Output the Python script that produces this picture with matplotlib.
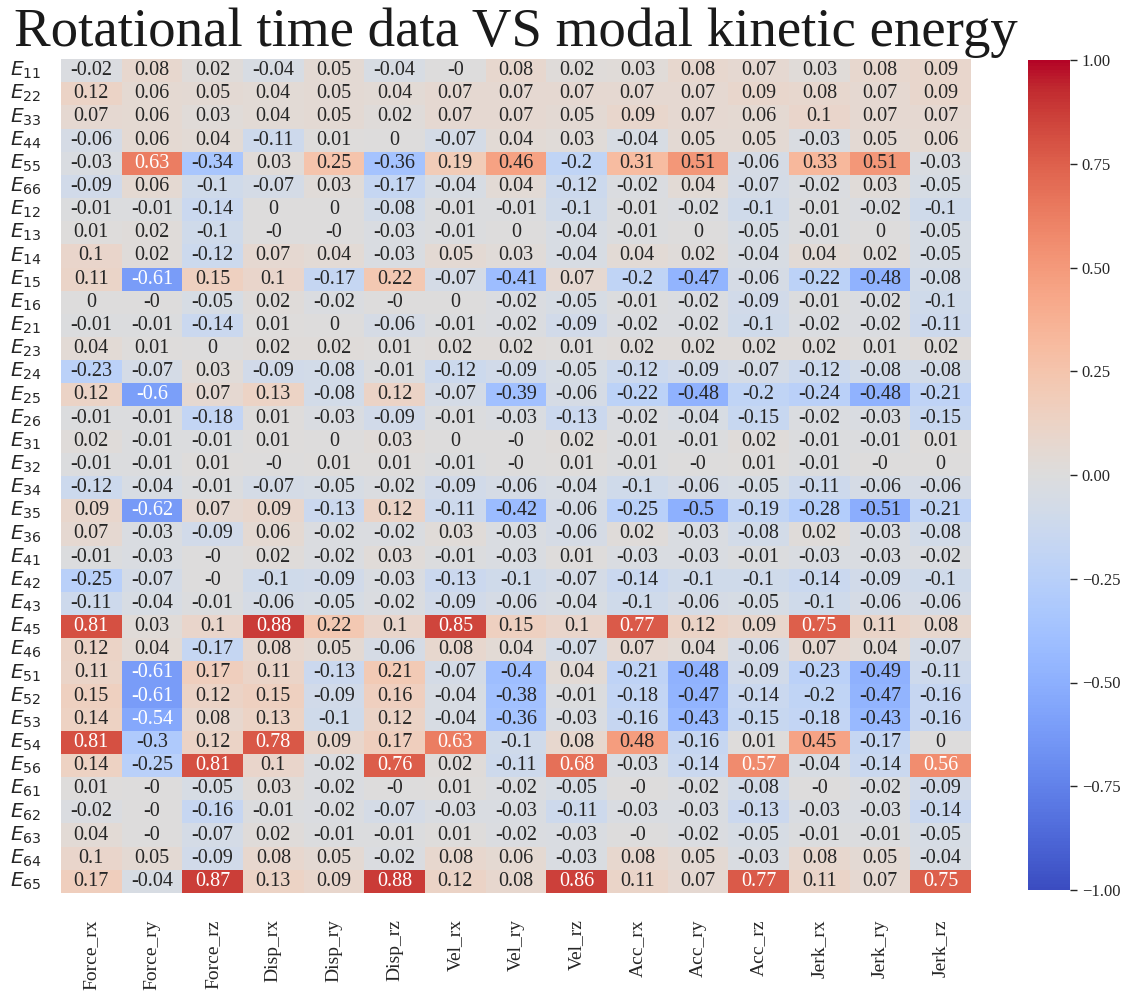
import numpy as np
import pandas as pd
import matplotlib
matplotlib.use("Agg")
import matplotlib.pyplot as plt
import seaborn as sns

columns = ["Force_rx", "Force_ry", "Force_rz", "Disp_rx", "Disp_ry", "Disp_rz",
           "Vel_rx", "Vel_ry", "Vel_rz", "Acc_rx", "Acc_ry", "Acc_rz",
           "Jerk_rx", "Jerk_ry", "Jerk_rz"]

row_ids = ["11", "22", "33", "44", "55", "66", "12", "13", "14", "15", "16",
           "21", "23", "24", "25", "26", "31", "32", "34", "35", "36",
           "41", "42", "43", "45", "46", "51", "52", "53", "54", "56",
           "61", "62", "63", "64", "65"]

E11 = [-0.02, 0.08, 0.02, -0.04, 0.05, -0.04, -0.0, 0.08, 0.02, 0.03, 0.08, 0.07, 0.03, 0.08, 0.09]
E22 = [0.12, 0.06, 0.05, 0.04, 0.05, 0.04, 0.07, 0.07, 0.07, 0.07, 0.07, 0.09, 0.08, 0.07, 0.09]
E33 = [0.07, 0.06, 0.03, 0.04, 0.05, 0.02, 0.07, 0.07, 0.05, 0.09, 0.07, 0.06, 0.1, 0.07, 0.07]
E44 = [-0.06, 0.06, 0.04, -0.11, 0.01, 0.0, -0.07, 0.04, 0.03, -0.04, 0.05, 0.05, -0.03, 0.05, 0.06]
E55 = [-0.03, 0.63, -0.34, 0.03, 0.25, -0.36, 0.19, 0.46, -0.2, 0.31, 0.51, -0.06, 0.33, 0.51, -0.03]
E66 = [-0.09, 0.06, -0.1, -0.07, 0.03, -0.17, -0.04, 0.04, -0.12, -0.02, 0.04, -0.07, -0.02, 0.03, -0.05]
E12 = [-0.01, -0.01, -0.14, 0.0, 0.0, -0.08, -0.01, -0.01, -0.1, -0.01, -0.02, -0.1, -0.01, -0.02, -0.1]
E13 = [0.01, 0.02, -0.1, -0.0, -0.0, -0.03, -0.01, 0.0, -0.04, -0.01, 0.0, -0.05, -0.01, 0.0, -0.05]
E14 = [0.1, 0.02, -0.12, 0.07, 0.04, -0.03, 0.05, 0.03, -0.04, 0.04, 0.02, -0.04, 0.04, 0.02, -0.05]
E15 = [0.11, -0.61, 0.15, 0.1, -0.17, 0.22, -0.07, -0.41, 0.07, -0.2, -0.47, -0.06, -0.22, -0.48, -0.08]
E16 = [0.0, -0.0, -0.05, 0.02, -0.02, -0.0, 0.0, -0.02, -0.05, -0.01, -0.02, -0.09, -0.01, -0.02, -0.1]
E21 = [-0.01, -0.01, -0.14, 0.01, 0.0, -0.06, -0.01, -0.02, -0.09, -0.02, -0.02, -0.1, -0.02, -0.02, -0.11]
E23 = [0.04, 0.01, 0.0, 0.02, 0.02, 0.01, 0.02, 0.02, 0.01, 0.02, 0.02, 0.02, 0.02, 0.01, 0.02]
E24 = [-0.23, -0.07, 0.03, -0.09, -0.08, -0.01, -0.12, -0.09, -0.05, -0.12, -0.09, -0.07, -0.12, -0.08, -0.08]
E25 = [0.12, -0.6, 0.07, 0.13, -0.08, 0.12, -0.07, -0.39, -0.06, -0.22, -0.48, -0.2, -0.24, -0.48, -0.21]
E26 = [-0.01, -0.01, -0.18, 0.01, -0.03, -0.09, -0.01, -0.03, -0.13, -0.02, -0.04, -0.15, -0.02, -0.03, -0.15]
E31 = [0.02, -0.01, -0.01, 0.01, 0.0, 0.03, 0.0, -0.0, 0.02, -0.01, -0.01, 0.02, -0.01, -0.01, 0.01]
E32 = [-0.01, -0.01, 0.01, -0.0, 0.01, 0.01, -0.01, -0.0, 0.01, -0.01, -0.0, 0.01, -0.01, -0.0, 0.0]
E34 = [-0.12, -0.04, -0.01, -0.07, -0.05, -0.02, -0.09, -0.06, -0.04, -0.1, -0.06, -0.05, -0.11, -0.06, -0.06]
E35 = [0.09, -0.62, 0.07, 0.09, -0.13, 0.12, -0.11, -0.42, -0.06, -0.25, -0.5, -0.19, -0.28, -0.51, -0.21]
E36 = [0.07, -0.03, -0.09, 0.06, -0.02, -0.02, 0.03, -0.03, -0.06, 0.02, -0.03, -0.08, 0.02, -0.03, -0.08]
E41 = [-0.01, -0.03, -0.0, 0.02, -0.02, 0.03, -0.01, -0.03, 0.01, -0.03, -0.03, -0.01, -0.03, -0.03, -0.02]
E42 = [-0.25, -0.07, -0.0, -0.1, -0.09, -0.03, -0.13, -0.1, -0.07, -0.14, -0.1, -0.1, -0.14, -0.09, -0.1]
E43 = [-0.11, -0.04, -0.01, -0.06, -0.05, -0.02, -0.09, -0.06, -0.04, -0.1, -0.06, -0.05, -0.1, -0.06, -0.06]
E45 = [0.81, 0.03, 0.1, 0.88, 0.22, 0.1, 0.85, 0.15, 0.1, 0.77, 0.12, 0.09, 0.75, 0.11, 0.08]
E46 = [0.12, 0.04, -0.17, 0.08, 0.05, -0.06, 0.08, 0.04, -0.07, 0.07, 0.04, -0.06, 0.07, 0.04, -0.07]
E51 = [0.11, -0.61, 0.17, 0.11, -0.13, 0.21, -0.07, -0.4, 0.04, -0.21, -0.48, -0.09, -0.23, -0.49, -0.11]
E52 = [0.15, -0.61, 0.12, 0.15, -0.09, 0.16, -0.04, -0.38, -0.01, -0.18, -0.47, -0.14, -0.2, -0.47, -0.16]
E53 = [0.14, -0.54, 0.08, 0.13, -0.1, 0.12, -0.04, -0.36, -0.03, -0.16, -0.43, -0.15, -0.18, -0.43, -0.16]
E54 = [0.81, -0.3, 0.12, 0.78, 0.09, 0.17, 0.63, -0.1, 0.08, 0.48, -0.16, 0.01, 0.45, -0.17, 0.0]
E56 = [0.14, -0.25, 0.81, 0.1, -0.02, 0.76, 0.02, -0.11, 0.68, -0.03, -0.14, 0.57, -0.04, -0.14, 0.56]
E61 = [0.01, -0.0, -0.05, 0.03, -0.02, -0.0, 0.01, -0.02, -0.05, -0.0, -0.02, -0.08, -0.0, -0.02, -0.09]
E62 = [-0.02, -0.0, -0.16, -0.01, -0.02, -0.07, -0.03, -0.03, -0.11, -0.03, -0.03, -0.13, -0.03, -0.03, -0.14]
E63 = [0.04, -0.0, -0.07, 0.02, -0.01, -0.01, 0.01, -0.02, -0.03, -0.0, -0.02, -0.05, -0.01, -0.01, -0.05]
E64 = [0.1, 0.05, -0.09, 0.08, 0.05, -0.02, 0.08, 0.06, -0.03, 0.08, 0.05, -0.03, 0.08, 0.05, -0.04]
E65 = [0.17, -0.04, 0.87, 0.13, 0.09, 0.88, 0.12, 0.08, 0.86, 0.11, 0.07, 0.77, 0.11, 0.07, 0.75]

rows = [E11, E22, E33, E44, E55, E66, E12, E13, E14, E15, E16, E21, E23, E24,
        E25, E26, E31, E32, E34, E35, E36, E41, E42, E43, E45, E46, E51, E52,
        E53, E54, E56, E61, E62, E63, E64, E65]

row_labels = [r"$E_{%s}$" % r for r in row_ids]
corr = pd.DataFrame(np.array(rows), index=row_labels, columns=columns)

sns.set_theme(style="white")
plt.rcParams["font.family"] = ["Liberation Serif", "DejaVu Serif"]
plt.rcParams["mathtext.fontset"] = "dejavusans"

W, H = 1145, 994
fig = plt.figure(figsize=(W / 100, H / 100), dpi=100)
ax = fig.add_axes([61 / W, 1 - 893 / H, 910 / W, 834 / H])
cax = fig.add_axes([1028 / W, 1 - 890 / H, 42 / W, 830 / H])

sns.heatmap(corr, ax=ax, cbar_ax=cax, cmap="coolwarm", vmin=-1, vmax=1,
            annot=True, fmt="g", annot_kws={"fontsize": 14.5})

ax.set_title("Rotational time data VS modal kinetic energy", fontsize=39.5,
             pad=9, color="#1a1a1a")
ax.tick_params(axis="y", labelsize=14.5, rotation=0, length=0, pad=14)
ax.tick_params(axis="x", labelsize=14, rotation=90, length=0, pad=19)
cax.tick_params(labelsize=12, length=5, width=1)

fig.savefig("out.png", dpi=100)
